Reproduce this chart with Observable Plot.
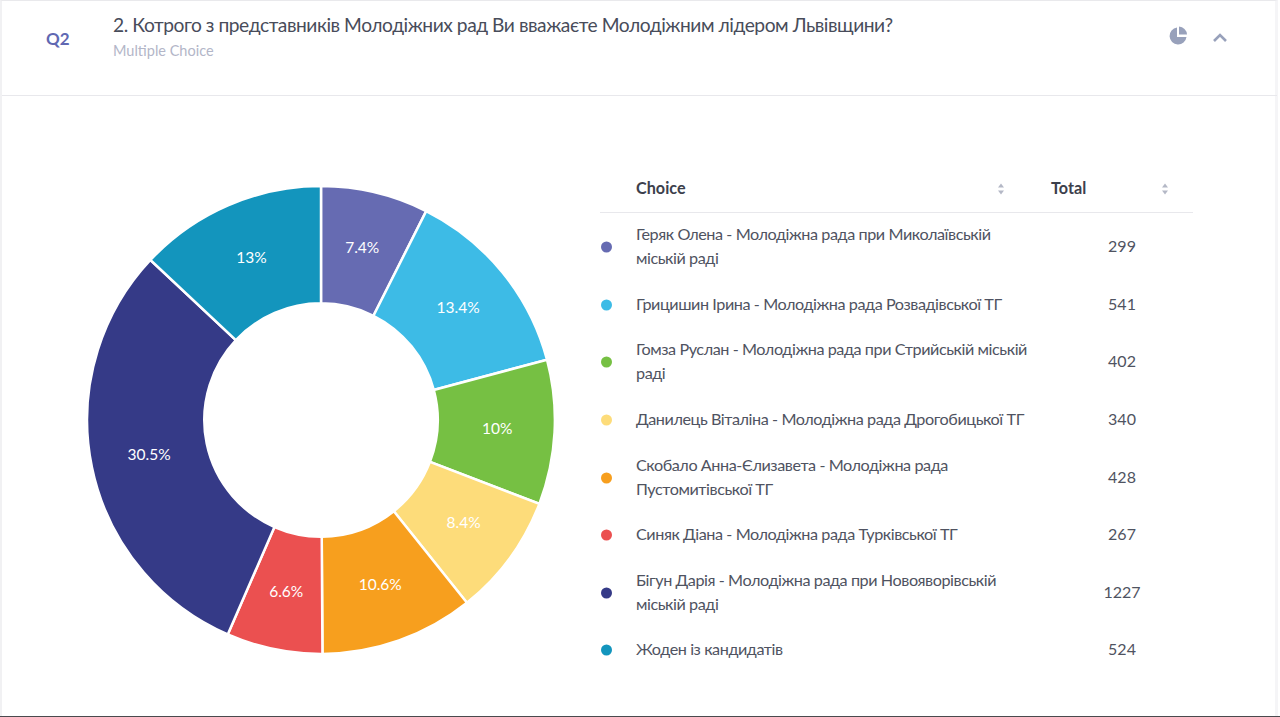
<!DOCTYPE html>
<html lang="uk">
<head>
<meta charset="utf-8">
<script src="https://cdn.jsdelivr.net/npm/d3@7"></script>
<script src="https://cdn.jsdelivr.net/npm/@observablehq/plot@0.6"></script>
<style>
html,body{margin:0;padding:0;background:#fff;}
body{width:1280px;height:717px;position:relative;overflow:hidden;font-family:Lato,"Noto Sans",sans-serif;}
.abs{position:absolute;white-space:pre;}
#frame{position:absolute;left:0;top:0;width:1278px;height:716px;border-left:2px solid #f1f1f3;border-top:1px solid #e9e9ec;box-sizing:border-box;border-right:3px solid #f5f5f7;}
#base{position:absolute;left:0;top:716px;width:1280px;height:1px;background:#4a4a4e;}
#rule{position:absolute;left:2px;top:95px;width:1275px;height:1px;background:#e8e8ec;}
#hrule{position:absolute;left:600px;top:212px;width:593px;height:1px;background:#e8e8ec;}
#chart{position:absolute;left:0;top:0;}
#chart svg{display:block;}
.name{font-size:16.2px;line-height:24px;letter-spacing:-0.43px;color:#4f5361;white-space:pre;transform:translateY(-50%);left:636px;}
.total{font-size:16px;color:#4f5361;transform:translate(-50%,-50%);left:1122px;margin-top:-1px;}
.sw{width:11px;height:11px;border-radius:50%;left:601px;transform:translateY(-50%);margin-top:0.5px;}
.th{font-size:16.2px;font-weight:700;color:#3c404c;transform:translateY(-50%);top:186.5px;}
</style>
</head>
<body>
<div id="frame"></div><div id="rule"></div><div id="hrule"></div><div id="base"></div>
<div class="abs" style="left:46px;top:28px;font-size:17px;font-weight:700;color:#6068b2;">Q2</div>
<div class="abs" id="title" style="left:113px;top:13px;font-size:19.2px;letter-spacing:-0.45px;color:#484c5a;">2. Котрого з представників Молодіжних рад Ви вважаєте Молодіжним лідером Львівщини?</div>
<div class="abs" style="left:113px;top:41.5px;font-size:14.5px;color:#b3b6c8;">Multiple Choice</div>
<svg class="abs" style="left:1168px;top:26px" width="20" height="20" viewBox="-10 -10 20 20">
  <path d="M-1,-8.5A8.5,8.5 0 1 0 8.5,1L-1,1Z" fill="#98a1bb"/>
  <path d="M1,-9.5A8.5,8.5 0 0 1 9,-1.5L1,-1.5Z" fill="#98a1bb"/>
</svg>
<svg class="abs" style="left:1212px;top:31px" width="16" height="14" viewBox="0 0 16 14">
  <path d="M2,10L8,4L14,10" fill="none" stroke="#98a1bb" stroke-width="2.6"/>
</svg>
<div class="abs th" style="left:636px;">Choice</div>
<div class="abs th" style="left:1051px;">Total</div>
<svg class="abs" style="left:996px;top:182px" width="10" height="14" viewBox="0 0 10 14"><path d="M5,1.5L8,5.5H2ZM5,12.5L8,8.5H2Z" fill="#b4b8c6"/></svg>
<svg class="abs" style="left:1160px;top:182px" width="10" height="14" viewBox="0 0 10 14"><path d="M5,1.5L8,5.5H2ZM5,12.5L8,8.5H2Z" fill="#b4b8c6"/></svg>
<div id="chart"></div>
<div id="rows"></div>
<script>
const choices = [
  "Геряк Олена - Молодіжна рада при Миколаївській\nміській раді",
  "Грицишин Ірина - Молодіжна рада Розвадівської ТГ",
  "Гомза Руслан - Молодіжна рада при Стрийській міській\nраді",
  "Данилець Віталіна - Молодіжна рада Дрогобицької ТГ",
  "Скобало Анна-Єлизавета - Молодіжна рада\nПустомитівської ТГ",
  "Синяк Діана - Молодіжна рада Турківської ТГ",
  "Бігун Дарія - Молодіжна рада при Новояворівській\nміській раді",
  "Жоден із кандидатів"
];
const totals = [299, 541, 402, 340, 428, 267, 1227, 524];
const shares = ["7.4%", "13.4%", "10%", "8.4%", "10.6%", "6.6%", "30.5%", "13%"];
const colors = ["#666bb2", "#3dbbe6", "#76c043", "#fddc7a", "#f79f1e", "#eb5050", "#353a87", "#1395bd"];
const rowCenters = [246, 304, 361, 419, 477, 534, 592, 649];

const rows = choices.map((choice, i) => ({choice, total: totals[i], share: shares[i]}));
const grandTotal = d3.sum(totals);

const cx = 321, cy = 420, outer = 233.9, inner = 116.7, labelR = 176;
const rad = (deg) => deg * Math.PI / 180;

const ring = (index, scales, values, dimensions, context) => {
  const arc = d3.arc().innerRadius(inner).outerRadius(outer);
  const group = d3.select(context.document.createElementNS("http://www.w3.org/2000/svg", "g"))
    .attr("transform", `translate(${cx},${cy})`);
  group.selectAll("path").data(index).join("path")
    .attr("d", (i) => arc({startAngle: rad(values.x1[i]), endAngle: rad(values.x2[i])}))
    .attr("fill", (i) => values.fill[i])
    .attr("stroke", "#fff")
    .attr("stroke-width", 2.5);
  return group.node();
};

const polarLabels = (index, scales, values, dimensions, context, next) => {
  const X = Array.from(values.x, (a) => cx + labelR * Math.sin(rad(a)));
  const Y = Array.from(values.x, (a) => cy - labelR * Math.cos(rad(a)) - 1);
  return next(index, scales, {...values, x: X, y: Y}, dimensions, context);
};

const plot = Plot.plot({
  width: 600,
  height: 717,
  margin: 0,
  x: {domain: [0, grandTotal], range: [0, 360], axis: null},
  color: {domain: choices, range: colors},
  marks: [
    Plot.barX(rows, Plot.stackX({x: "total", fill: "choice", render: ring})),
    Plot.text(rows, Plot.stackX({
      x: "total",
      text: "share",
      fill: "#fff",
      fontSize: 15.5,
      fontFamily: "Lato, sans-serif",
      render: polarLabels
    }))
  ]
});
document.getElementById("chart").append(plot);

const host = d3.select("#rows");
rows.forEach((r, i) => {
  host.append("div").attr("class", "abs sw").style("top", rowCenters[i] + "px").style("background", colors[i]);
  host.append("div").attr("class", "abs name").style("top", rowCenters[i] + "px").text(r.choice);
  host.append("div").attr("class", "abs total").style("top", rowCenters[i] + "px").text(r.total);
});
</script>
</body>
</html>
